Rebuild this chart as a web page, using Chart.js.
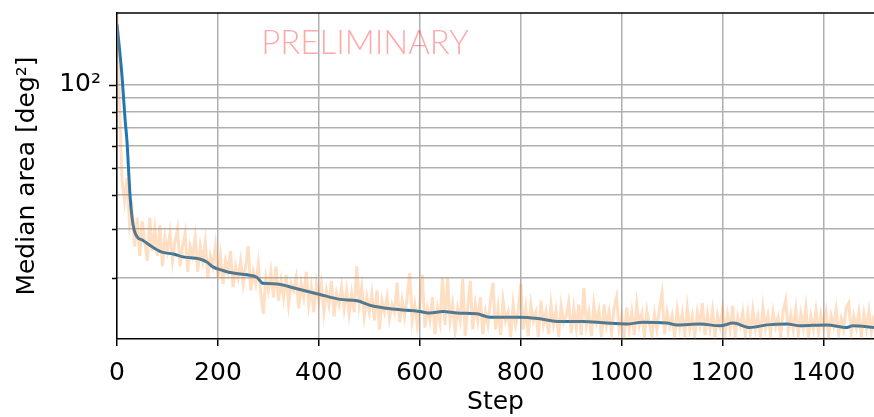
<!DOCTYPE html>
<html>
<head>
<meta charset="utf-8">
<script src="https://cdn.jsdelivr.net/npm/chart.js@4/dist/chart.umd.min.js"></script>
<style>
  html, body { margin: 0; padding: 0; background: #fff; }
  #wrap { width: 874px; height: 417px; position: relative; }
</style>
</head>
<body>
<div id="wrap"><canvas id="areaChart"></canvas></div>
<script>
// Smoothed median area
const smoothSteps = [0, 10, 16, 20, 23, 26, 32, 40, 50, 71, 91, 111, 131, 164, 178, 190, 208, 230, 258, 277,
  289, 317, 349, 402, 442, 476, 501, 547, 600, 620, 646, 674, 713, 739, 798, 838, 872, 923, 971, 1010,
  1042, 1090, 1110, 1155, 1195, 1221, 1254, 1288, 1328, 1353, 1407, 1446, 1458, 1500];
const smoothArea = [166, 107, 75, 61.6, 49, 39.2, 31, 28.1, 27.4, 25.8, 24.7, 24.4, 23.8, 23.4, 22.8, 21.9, 21.3, 20.8, 20.5, 20.1,
  19.1, 19.0, 18.4, 17.4, 16.7, 16.5, 15.9, 15.4, 15.1, 14.9, 15.1, 14.9, 14.8, 14.4, 14.4, 14.2, 13.9, 13.9, 13.7, 13.6,
  13.8, 13.7, 13.5, 13.6, 13.4, 13.7, 13.2, 13.5, 13.6, 13.4, 13.5, 13.2, 13.4, 13.2];

// Raw median area, one value every 5 steps
const rawStepSize = 5;
const rawArea = [
  185, 85, 45, 38, 46, 31, 35, 26, 33, 24,
  32, 27, 23, 33, 25, 30, 24, 31, 22, 28,
  25, 29, 23, 27, 30, 22, 26, 29, 21, 26,
  24, 28, 21, 26, 23, 27, 20, 24, 22, 26,
  20, 24, 19, 23, 21, 25, 18.5, 22, 20, 23,
  19, 22, 26, 18, 21, 19, 22.5, 17.5, 14.8, 20,
  18, 21, 17, 22, 16.5, 19.5, 17, 20.5, 16, 19,
  18, 20, 15.5, 19, 17, 21, 16, 18.5, 15, 19,
  16.5, 19, 15, 18, 16, 19.5, 14.5, 17.5, 16, 18.5,
  15.5, 18, 14.8, 17.5, 15, 22, 16, 18.5, 14.5, 17,
  15, 17.5, 14, 18, 13, 16.5, 15, 17, 14.2, 16,
  15, 19.2, 13.8, 16.5, 14.5, 17, 20.8, 14, 16, 13.5,
  16, 20.5, 13.2, 15.5, 14, 17, 12.5, 15.5, 13.8, 20,
  13.5, 20, 14, 16, 12.8, 15.5, 14, 19.8, 12.3, 15.5,
  19.5, 13, 16, 14, 17, 12.5, 15, 13.5, 16.5, 19.2,
  13, 15.5, 12.4, 16.5, 14, 15, 12.2, 16, 13.5, 15,
  19, 13, 15.5, 12.3, 16, 14, 15, 12.2, 16.5, 13.5,
  15, 12.5, 16, 13.5, 15.2, 12.2, 15.8, 13.8, 14.5, 16.3,
  12.6, 15.5, 13.2, 16, 12.4, 18.4, 13.5, 15, 12.3, 16,
  13.8, 15.2, 12.2, 16, 13.4, 15, 12.6, 15.5, 17, 13,
  14.5, 12.2, 15.6, 13, 15, 12.4, 16, 13.5, 14.8, 12.3,
  15.2, 13.6, 12.2, 14.8, 13, 15.5, 17.6, 12.5, 15, 13.4,
  14.6, 12.2, 15.3, 13.2, 14.8, 12.4, 15.6, 13, 14.5, 12.3,
  15, 13.5, 16.2, 12.4, 14.8, 13, 15.2, 12.2, 14.6, 13.3,
  15.4, 12.5, 14.7, 13, 15.8, 12.2, 14.5, 13.4, 15, 12.4,
  14.8, 12.6, 15.3, 13, 14.5, 12.2, 15.6, 13.2, 14.6, 12.5,
  15, 13.3, 14.4, 12.3, 15.2, 16.6, 12.8, 14.7, 13, 15.4,
  12.4, 14.8, 13.2, 15.6, 12.2, 14.5, 13, 15.2, 12.6, 14.7,
  13.2, 15, 12.3, 14.6, 13.4, 15.3, 12.5, 14.2, 13, 15.6,
  16.2, 12.6, 14.5, 13.2, 15, 12.3, 14.8, 13.1, 15.2, 12.8,
  14.6
];

// Axis ticks
const xTicks = [0, 200, 400, 600, 800, 1000, 1200, 1400];
const yTicks = [20, 30, 40, 50, 60, 70, 80, 90, 100];
const yMajor = 100;

const FONT = "'DejaVu Sans', sans-serif";
const FONT_SIZE = 25;

// frame top line, y tick marks (long for major, short for minor) and watermark
const extrasPlugin = {
  id: 'extras',
  beforeDatasetsDraw(chart) {
    const ctx = chart.ctx;
    ctx.save();
    ctx.font = "300 33px Lato, 'Open Sans', sans-serif";
    ctx.fillStyle = 'rgba(255, 0, 0, 0.35)';
    ctx.textAlign = 'center';
    ctx.textBaseline = 'middle';
    ctx.fillText('PRELIMINARY', 365, 43);
    ctx.restore();
  },
  afterDraw(chart) {
    const ctx = chart.ctx;
    const area = chart.chartArea;
    const y = chart.scales.y;
    ctx.save();
    ctx.strokeStyle = '#000';
    ctx.lineWidth = 1.5;
    ctx.beginPath();
    ctx.moveTo(area.left, area.top);
    ctx.lineTo(area.right, area.top);
    ctx.stroke();
    yTicks.forEach(v => {
      const py = Math.round(y.getPixelForValue(v)) + 0.5;
      const len = v === yMajor ? 8 : 5;
      ctx.beginPath();
      ctx.moveTo(area.left - len, py);
      ctx.lineTo(area.left, py);
      ctx.stroke();
    });
    ctx.restore();
  }
};

const ctx = document.getElementById('areaChart').getContext('2d');
new Chart(ctx, {
  type: 'line',
  data: {
    datasets: [
      {
        label: 'raw',
        data: rawArea.map((v, i) => ({ x: i * rawStepSize, y: v })),
        borderColor: 'rgba(255, 127, 14, 0.25)',
        borderWidth: 3,
        pointRadius: 0,
        tension: 0
      },
      {
        label: 'smoothed',
        data: smoothSteps.map((s, i) => ({ x: s, y: smoothArea[i] })),
        borderColor: '#1f77b4',
        borderWidth: 3,
        pointRadius: 0,
        cubicInterpolationMode: 'monotone'
      }
    ]
  },
  options: {
    responsive: true,
    maintainAspectRatio: false,
    animation: false,
    layout: { padding: { top: 13, right: 0, left: 0, bottom: 0 } },
    plugins: {
      legend: { display: false },
      tooltip: { enabled: false }
    },
    scales: {
      x: {
        type: 'linear',
        min: 0,
        max: 1500,
        afterBuildTicks: scale => { scale.ticks = xTicks.map(v => ({ value: v })); },
        afterFit: scale => { scale.height = 78; scale.paddingLeft = 0; scale.paddingRight = 0; },
        grid: { color: '#b0b0b0', lineWidth: 1.5, tickColor: '#000', tickLength: 7 },
        border: { color: '#000', width: 1.5 },
        ticks: { color: '#000', font: { family: FONT, size: FONT_SIZE }, padding: 12, maxRotation: 0, callback: v => String(v) },
        title: { display: true, text: 'Step', color: '#000', font: { family: FONT, size: FONT_SIZE }, padding: { top: 0, bottom: 0 } }
      },
      y: {
        type: 'logarithmic',
        min: 12,
        max: 182,
        afterBuildTicks: scale => { scale.ticks = yTicks.map(v => ({ value: v })); },
        afterFit: scale => { scale.width = 117; scale.paddingTop = 0; scale.paddingBottom = 0; },
        grid: { color: '#b0b0b0', lineWidth: 1.5, drawTicks: false },
        border: { color: '#000', width: 1.5 },
        ticks: {
          color: '#000',
          font: { family: FONT, size: FONT_SIZE },
          padding: 16,
          autoSkip: false,
          callback: v => (v === yMajor ? '10\u00B2' : '')
        },
        title: { display: true, text: 'Median area [deg\u00B2]', color: '#000', font: { family: FONT, size: FONT_SIZE }, padding: { top: 12, bottom: 0 } }
      }
    }
  },
  plugins: [extrasPlugin]
});
</script>
</body>
</html>
